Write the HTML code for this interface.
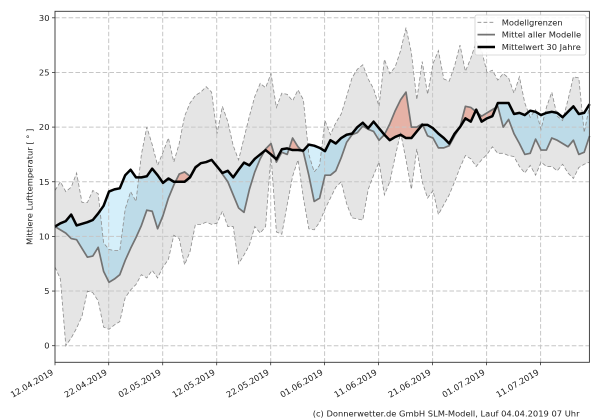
<!DOCTYPE html>
<html><head><meta charset="utf-8"><style>
html,body{margin:0;padding:0;background:#fff;width:600px;height:420px;overflow:hidden;}
svg{display:block;font-family:"DejaVu Sans","Liberation Sans",sans-serif;}
</style></head><body>
<svg width="600" height="420" viewBox="0 0 600 420" xmlns="http://www.w3.org/2000/svg">
<rect x="0" y="0" width="600" height="420" fill="#fff"/>
<g transform="matrix(5.4 0 0 -10.93 55 345.7)">
<defs>
<clipPath id="belowC"><polygon points="0,10.9 1,11.2 2,11.4 3,12 4,11 5,11.15 6,11.3 7,11.5 8,12.1 9,12.8 10,14.1 11,14.3 12,14.4 13,15.6 14,16.1 15,15.4 16,15.4 17,15.5 18,16.2 19,15.6 20,14.9 21,15.3 22,15 23,15 24,15 25,15.4 26,16.3 27,16.7 28,16.8 29,17 30,16.4 31,15.8 32,16 33,15.4 34,16.1 35,16.75 36,16.5 37,17.1 38,17.5 39,17.9 40,17.5 41,17.05 42,17.97 43,18.05 44,17.9 45,17.9 46,17.85 47,18.4 48,18.3 49,18.1 50,17.8 51,18.8 52,18.5 53,19 54,19.3 55,19.4 56,20 57,20.4 58,19.9 59,20.5 60,19.9 61,19.3 62,18.8 63,19.1 64,19.3 65,19 66,19 67,19.6 68,20.2 69,20.2 70,19.9 71,19.4 72,19 73,18.5 74,19.4 75,20 76,20.8 77,20.5 78,21.6 79,20.5 80,20.8 81,21 82,22.2 83,22.2 84,22.2 85,21.2 86,21.3 87,21.1 88,21.5 89,21.4 90,21.1 91,21.3 92,21.4 93,21.3 94,20.9 95,21.4 96,21.9 97,21.2 98,21.3 99,22.1 99,-1.5 0,-1.5"/></clipPath>
<clipPath id="aboveC"><polygon points="0,10.9 1,11.2 2,11.4 3,12 4,11 5,11.15 6,11.3 7,11.5 8,12.1 9,12.8 10,14.1 11,14.3 12,14.4 13,15.6 14,16.1 15,15.4 16,15.4 17,15.5 18,16.2 19,15.6 20,14.9 21,15.3 22,15 23,15 24,15 25,15.4 26,16.3 27,16.7 28,16.8 29,17 30,16.4 31,15.8 32,16 33,15.4 34,16.1 35,16.75 36,16.5 37,17.1 38,17.5 39,17.9 40,17.5 41,17.05 42,17.97 43,18.05 44,17.9 45,17.9 46,17.85 47,18.4 48,18.3 49,18.1 50,17.8 51,18.8 52,18.5 53,19 54,19.3 55,19.4 56,20 57,20.4 58,19.9 59,20.5 60,19.9 61,19.3 62,18.8 63,19.1 64,19.3 65,19 66,19 67,19.6 68,20.2 69,20.2 70,19.9 71,19.4 72,19 73,18.5 74,19.4 75,20 76,20.8 77,20.5 78,21.6 79,20.5 80,20.8 81,21 82,22.2 83,22.2 84,22.2 85,21.2 86,21.3 87,21.1 88,21.5 89,21.4 90,21.1 91,21.3 92,21.4 93,21.3 94,20.9 95,21.4 96,21.9 97,21.2 98,21.3 99,22.1 99,30.5 0,30.5"/></clipPath>
<clipPath id="belowU"><polygon points="0,14.2 1,15 2,14.1 3,14.5 4,15.8 5,13.1 6,13.1 7,14.2 8,13.9 9,9.4 10,8.8 11,8.7 12,8.7 13,12.5 14,14.1 15,13.2 16,17.5 17,20 18,18.4 19,16.5 20,17.7 21,19 22,16.8 23,18.5 24,21 25,22.2 26,22.9 27,23.2 28,23.7 29,23.2 30,19.4 31,21.9 32,20.5 33,18.3 34,17 35,19 36,21 37,22.8 38,24 39,23.6 40,24.9 41,21.8 42,23.1 43,23 44,22.4 45,23.4 46,22.5 47,17.5 48,15.9 49,16.5 50,20.6 51,19.3 52,20.4 53,21.2 54,22.8 55,24.5 56,25.3 57,25.7 58,24.4 59,23.5 60,21.9 61,26.2 62,24.9 63,25.5 64,27 65,29.1 66,26.8 67,22.5 68,26 69,23 70,25.8 71,27 72,24.4 73,24.2 74,25.6 75,27.5 76,25.1 77,26.3 78,27.8 79,27 80,25 81,25.2 82,24.3 83,24.9 84,24.5 85,23.1 86,24.6 87,22.2 88,20.9 89,21.6 90,19.8 91,21.8 92,23.2 93,21 94,20.6 95,22.5 96,24.6 97,24.5 98,19.5 99,22 99,-1.5 0,-1.5"/></clipPath>
<clipPath id="aboveL"><polygon points="0,7.2 1,6.1 2,0 3,0.7 4,1.6 5,2.7 6,5 7,4.85 8,4.1 9,1.7 10,1.5 11,1.9 12,2.2 13,4.4 14,5.1 15,5.6 16,6.5 17,6.2 18,6.9 19,6.2 20,7.2 21,7.9 22,10.1 23,9.8 24,7.4 25,8.6 26,11.1 27,11.1 28,11.3 29,11.1 30,11.2 31,12.3 32,10.9 33,10.9 34,7.5 35,8.3 36,9.2 37,10.9 38,10.3 39,10.9 40,17.5 41,10.4 42,10.2 43,12.9 44,15.5 45,17 46,13.5 47,10.7 48,10.6 49,11.3 50,12.5 51,13.5 52,14.5 53,15 54,13 55,11.7 56,11.6 57,11.5 58,14.3 59,15.6 60,16.8 61,13.8 62,15 63,17.3 64,19.5 65,17 66,14.3 67,18 68,15 69,13.5 70,14.2 71,12 72,12.9 73,13.8 74,15 75,16.3 76,17.4 77,17.1 78,16.4 79,17 80,17.5 81,18.2 82,17.6 83,17.6 84,17.4 85,17.3 86,16.4 87,15.8 88,16.5 89,15.6 90,16.8 91,16.4 92,16.4 93,16 94,16.6 95,15.8 96,15.3 97,16.3 98,16.6 99,16.8 99,30.5 0,30.5"/></clipPath>
</defs>
<g clip-path="url(#aboveL)"><polygon fill="#e5e5e5" points="0,14.2 1,15 2,14.1 3,14.5 4,15.8 5,13.1 6,13.1 7,14.2 8,13.9 9,9.4 10,8.8 11,8.7 12,8.7 13,12.5 14,14.1 15,13.2 16,17.5 17,20 18,18.4 19,16.5 20,17.7 21,19 22,16.8 23,18.5 24,21 25,22.2 26,22.9 27,23.2 28,23.7 29,23.2 30,19.4 31,21.9 32,20.5 33,18.3 34,17 35,19 36,21 37,22.8 38,24 39,23.6 40,24.9 41,21.8 42,23.1 43,23 44,22.4 45,23.4 46,22.5 47,17.5 48,15.9 49,16.5 50,20.6 51,19.3 52,20.4 53,21.2 54,22.8 55,24.5 56,25.3 57,25.7 58,24.4 59,23.5 60,21.9 61,26.2 62,24.9 63,25.5 64,27 65,29.1 66,26.8 67,22.5 68,26 69,23 70,25.8 71,27 72,24.4 73,24.2 74,25.6 75,27.5 76,25.1 77,26.3 78,27.8 79,27 80,25 81,25.2 82,24.3 83,24.9 84,24.5 85,23.1 86,24.6 87,22.2 88,20.9 89,21.6 90,19.8 91,21.8 92,23.2 93,21 94,20.6 95,22.5 96,24.6 97,24.5 98,19.5 99,22 99,-1.5 0,-1.5"/></g>
<g clip-path="url(#belowC)"><polygon fill="#d5effa" points="0,10.9 1,10.6 2,10.3 3,9.8 4,9.7 5,8.9 6,8.1 7,8.2 8,9 9,6.8 10,5.8 11,6.1 12,6.5 13,7.8 14,8.9 15,9.9 16,11 17,12.4 18,12.3 19,10.7 20,11.9 21,13.5 22,14.7 23,15.7 24,15.9 25,15.5 26,16.4 27,16.7 28,16.8 29,17 30,16.4 31,15.7 32,15 33,13.8 34,12.6 35,12.2 36,14.3 37,15.9 38,17.1 39,18 40,18.5 41,16.8 42,17.7 43,17.5 44,19 45,18.2 46,17.7 47,15.6 48,13.2 49,13.5 50,15.6 51,15.6 52,16 53,17.2 54,18.6 55,19.3 56,19.5 57,20.1 58,19.8 59,19.6 60,18.8 61,19.3 62,20.3 63,21.5 64,22.5 65,23.2 66,20 67,20 68,20.3 69,19.2 70,19 71,18.1 72,18.1 73,18.3 74,19.2 75,20 76,21.9 77,21.8 78,21.4 79,21 80,21.3 81,21.6 82,21.9 83,20 84,20.7 85,19.4 86,18.5 87,17.5 88,17.6 89,18.9 90,17.9 91,17.9 92,19 93,18.8 94,18.5 95,18.2 96,18.8 97,17.5 98,17.7 99,19.2 99,30.5 0,30.5"/></g>
<g clip-path="url(#aboveL)"><g clip-path="url(#belowU)"><g clip-path="url(#belowC)"><polygon fill="#bddbe8" points="0,10.9 1,10.6 2,10.3 3,9.8 4,9.7 5,8.9 6,8.1 7,8.2 8,9 9,6.8 10,5.8 11,6.1 12,6.5 13,7.8 14,8.9 15,9.9 16,11 17,12.4 18,12.3 19,10.7 20,11.9 21,13.5 22,14.7 23,15.7 24,15.9 25,15.5 26,16.4 27,16.7 28,16.8 29,17 30,16.4 31,15.7 32,15 33,13.8 34,12.6 35,12.2 36,14.3 37,15.9 38,17.1 39,18 40,18.5 41,16.8 42,17.7 43,17.5 44,19 45,18.2 46,17.7 47,15.6 48,13.2 49,13.5 50,15.6 51,15.6 52,16 53,17.2 54,18.6 55,19.3 56,19.5 57,20.1 58,19.8 59,19.6 60,18.8 61,19.3 62,20.3 63,21.5 64,22.5 65,23.2 66,20 67,20 68,20.3 69,19.2 70,19 71,18.1 72,18.1 73,18.3 74,19.2 75,20 76,21.9 77,21.8 78,21.4 79,21 80,21.3 81,21.6 82,21.9 83,20 84,20.7 85,19.4 86,18.5 87,17.5 88,17.6 89,18.9 90,17.9 91,17.9 92,19 93,18.8 94,18.5 95,18.2 96,18.8 97,17.5 98,17.7 99,19.2 99,30.5 0,30.5"/></g></g></g>
<g clip-path="url(#aboveC)"><polygon fill="#f6d0c7" points="0,10.9 1,10.6 2,10.3 3,9.8 4,9.7 5,8.9 6,8.1 7,8.2 8,9 9,6.8 10,5.8 11,6.1 12,6.5 13,7.8 14,8.9 15,9.9 16,11 17,12.4 18,12.3 19,10.7 20,11.9 21,13.5 22,14.7 23,15.7 24,15.9 25,15.5 26,16.4 27,16.7 28,16.8 29,17 30,16.4 31,15.7 32,15 33,13.8 34,12.6 35,12.2 36,14.3 37,15.9 38,17.1 39,18 40,18.5 41,16.8 42,17.7 43,17.5 44,19 45,18.2 46,17.7 47,15.6 48,13.2 49,13.5 50,15.6 51,15.6 52,16 53,17.2 54,18.6 55,19.3 56,19.5 57,20.1 58,19.8 59,19.6 60,18.8 61,19.3 62,20.3 63,21.5 64,22.5 65,23.2 66,20 67,20 68,20.3 69,19.2 70,19 71,18.1 72,18.1 73,18.3 74,19.2 75,20 76,21.9 77,21.8 78,21.4 79,21 80,21.3 81,21.6 82,21.9 83,20 84,20.7 85,19.4 86,18.5 87,17.5 88,17.6 89,18.9 90,17.9 91,17.9 92,19 93,18.8 94,18.5 95,18.2 96,18.8 97,17.5 98,17.7 99,19.2 99,-1.5 0,-1.5"/></g>
<g clip-path="url(#aboveL)"><g clip-path="url(#belowU)"><g clip-path="url(#aboveC)"><polygon fill="#e6b2a6" points="0,10.9 1,10.6 2,10.3 3,9.8 4,9.7 5,8.9 6,8.1 7,8.2 8,9 9,6.8 10,5.8 11,6.1 12,6.5 13,7.8 14,8.9 15,9.9 16,11 17,12.4 18,12.3 19,10.7 20,11.9 21,13.5 22,14.7 23,15.7 24,15.9 25,15.5 26,16.4 27,16.7 28,16.8 29,17 30,16.4 31,15.7 32,15 33,13.8 34,12.6 35,12.2 36,14.3 37,15.9 38,17.1 39,18 40,18.5 41,16.8 42,17.7 43,17.5 44,19 45,18.2 46,17.7 47,15.6 48,13.2 49,13.5 50,15.6 51,15.6 52,16 53,17.2 54,18.6 55,19.3 56,19.5 57,20.1 58,19.8 59,19.6 60,18.8 61,19.3 62,20.3 63,21.5 64,22.5 65,23.2 66,20 67,20 68,20.3 69,19.2 70,19 71,18.1 72,18.1 73,18.3 74,19.2 75,20 76,21.9 77,21.8 78,21.4 79,21 80,21.3 81,21.6 82,21.9 83,20 84,20.7 85,19.4 86,18.5 87,17.5 88,17.6 89,18.9 90,17.9 91,17.9 92,19 93,18.8 94,18.5 95,18.2 96,18.8 97,17.5 98,17.7 99,19.2 99,-1.5 0,-1.5"/></g></g></g>
</g>
<g stroke="#c6c6c6" stroke-width="1" stroke-dasharray="4.6 2.2" fill="none">
<line x1="55" y1="345.7" x2="589.4" y2="345.7"/>
<line x1="55" y1="291.05" x2="589.4" y2="291.05"/>
<line x1="55" y1="236.4" x2="589.4" y2="236.4"/>
<line x1="55" y1="181.75" x2="589.4" y2="181.75"/>
<line x1="55" y1="127.1" x2="589.4" y2="127.1"/>
<line x1="55" y1="72.45" x2="589.4" y2="72.45"/>
<line x1="55" y1="17.8" x2="589.4" y2="17.8"/>
<line x1="108.7" y1="11.3" x2="108.7" y2="362.3"/>
<line x1="162.7" y1="11.3" x2="162.7" y2="362.3"/>
<line x1="216.7" y1="11.3" x2="216.7" y2="362.3"/>
<line x1="270.7" y1="11.3" x2="270.7" y2="362.3"/>
<line x1="324.6" y1="11.3" x2="324.6" y2="362.3"/>
<line x1="378.6" y1="11.3" x2="378.6" y2="362.3"/>
<line x1="432.6" y1="11.3" x2="432.6" y2="362.3"/>
<line x1="486.6" y1="11.3" x2="486.6" y2="362.3"/>
<line x1="540.6" y1="11.3" x2="540.6" y2="362.3"/>
</g>
<g transform="matrix(5.4 0 0 -10.93 55 345.7)" fill="none">
<polyline vector-effect="non-scaling-stroke" stroke="#8c8c8c" stroke-width="0.8" stroke-dasharray="3.8 2.2" points="0,14.2 1,15 2,14.1 3,14.5 4,15.8 5,13.1 6,13.1 7,14.2 8,13.9 9,9.4 10,8.8 11,8.7 12,8.7 13,12.5 14,14.1 15,13.2 16,17.5 17,20 18,18.4 19,16.5 20,17.7 21,19 22,16.8 23,18.5 24,21 25,22.2 26,22.9 27,23.2 28,23.7 29,23.2 30,19.4 31,21.9 32,20.5 33,18.3 34,17 35,19 36,21 37,22.8 38,24 39,23.6 40,24.9 41,21.8 42,23.1 43,23 44,22.4 45,23.4 46,22.5 47,17.5 48,15.9 49,16.5 50,20.6 51,19.3 52,20.4 53,21.2 54,22.8 55,24.5 56,25.3 57,25.7 58,24.4 59,23.5 60,21.9 61,26.2 62,24.9 63,25.5 64,27 65,29.1 66,26.8 67,22.5 68,26 69,23 70,25.8 71,27 72,24.4 73,24.2 74,25.6 75,27.5 76,25.1 77,26.3 78,27.8 79,27 80,25 81,25.2 82,24.3 83,24.9 84,24.5 85,23.1 86,24.6 87,22.2 88,20.9 89,21.6 90,19.8 91,21.8 92,23.2 93,21 94,20.6 95,22.5 96,24.6 97,24.5 98,19.5 99,22"/>
<polyline vector-effect="non-scaling-stroke" stroke="#8c8c8c" stroke-width="0.8" stroke-dasharray="3.8 2.2" points="0,7.2 1,6.1 2,0 3,0.7 4,1.6 5,2.7 6,5 7,4.85 8,4.1 9,1.7 10,1.5 11,1.9 12,2.2 13,4.4 14,5.1 15,5.6 16,6.5 17,6.2 18,6.9 19,6.2 20,7.2 21,7.9 22,10.1 23,9.8 24,7.4 25,8.6 26,11.1 27,11.1 28,11.3 29,11.1 30,11.2 31,12.3 32,10.9 33,10.9 34,7.5 35,8.3 36,9.2 37,10.9 38,10.3 39,10.9 40,17.5 41,10.4 42,10.2 43,12.9 44,15.5 45,17 46,13.5 47,10.7 48,10.6 49,11.3 50,12.5 51,13.5 52,14.5 53,15 54,13 55,11.7 56,11.6 57,11.5 58,14.3 59,15.6 60,16.8 61,13.8 62,15 63,17.3 64,19.5 65,17 66,14.3 67,18 68,15 69,13.5 70,14.2 71,12 72,12.9 73,13.8 74,15 75,16.3 76,17.4 77,17.1 78,16.4 79,17 80,17.5 81,18.2 82,17.6 83,17.6 84,17.4 85,17.3 86,16.4 87,15.8 88,16.5 89,15.6 90,16.8 91,16.4 92,16.4 93,16 94,16.6 95,15.8 96,15.3 97,16.3 98,16.6 99,16.8"/>
<polyline vector-effect="non-scaling-stroke" stroke="#737373" stroke-width="1.7" stroke-linejoin="round" points="0,10.9 1,10.6 2,10.3 3,9.8 4,9.7 5,8.9 6,8.1 7,8.2 8,9 9,6.8 10,5.8 11,6.1 12,6.5 13,7.8 14,8.9 15,9.9 16,11 17,12.4 18,12.3 19,10.7 20,11.9 21,13.5 22,14.7 23,15.7 24,15.9 25,15.5 26,16.4 27,16.7 28,16.8 29,17 30,16.4 31,15.7 32,15 33,13.8 34,12.6 35,12.2 36,14.3 37,15.9 38,17.1 39,18 40,18.5 41,16.8 42,17.7 43,17.5 44,19 45,18.2 46,17.7 47,15.6 48,13.2 49,13.5 50,15.6 51,15.6 52,16 53,17.2 54,18.6 55,19.3 56,19.5 57,20.1 58,19.8 59,19.6 60,18.8 61,19.3 62,20.3 63,21.5 64,22.5 65,23.2 66,20 67,20 68,20.3 69,19.2 70,19 71,18.1 72,18.1 73,18.3 74,19.2 75,20 76,21.9 77,21.8 78,21.4 79,21 80,21.3 81,21.6 82,21.9 83,20 84,20.7 85,19.4 86,18.5 87,17.5 88,17.6 89,18.9 90,17.9 91,17.9 92,19 93,18.8 94,18.5 95,18.2 96,18.8 97,17.5 98,17.7 99,19.2"/>
<polyline vector-effect="non-scaling-stroke" stroke="#000" stroke-width="2.5" stroke-linejoin="round" points="0,10.9 1,11.2 2,11.4 3,12 4,11 5,11.15 6,11.3 7,11.5 8,12.1 9,12.8 10,14.1 11,14.3 12,14.4 13,15.6 14,16.1 15,15.4 16,15.4 17,15.5 18,16.2 19,15.6 20,14.9 21,15.3 22,15 23,15 24,15 25,15.4 26,16.3 27,16.7 28,16.8 29,17 30,16.4 31,15.8 32,16 33,15.4 34,16.1 35,16.75 36,16.5 37,17.1 38,17.5 39,17.9 40,17.5 41,17.05 42,17.97 43,18.05 44,17.9 45,17.9 46,17.85 47,18.4 48,18.3 49,18.1 50,17.8 51,18.8 52,18.5 53,19 54,19.3 55,19.4 56,20 57,20.4 58,19.9 59,20.5 60,19.9 61,19.3 62,18.8 63,19.1 64,19.3 65,19 66,19 67,19.6 68,20.2 69,20.2 70,19.9 71,19.4 72,19 73,18.5 74,19.4 75,20 76,20.8 77,20.5 78,21.6 79,20.5 80,20.8 81,21 82,22.2 83,22.2 84,22.2 85,21.2 86,21.3 87,21.1 88,21.5 89,21.4 90,21.1 91,21.3 92,21.4 93,21.3 94,20.9 95,21.4 96,21.9 97,21.2 98,21.3 99,22.1"/>
</g>
<rect x="55" y="11.3" width="534.4" height="351" fill="none" stroke="#333" stroke-width="0.9"/>
<g stroke="#333" stroke-width="0.8">
<line x1="52" y1="345.7" x2="55" y2="345.7"/><line x1="52" y1="291.05" x2="55" y2="291.05"/><line x1="52" y1="236.4" x2="55" y2="236.4"/><line x1="52" y1="181.75" x2="55" y2="181.75"/><line x1="52" y1="127.1" x2="55" y2="127.1"/><line x1="52" y1="72.45" x2="55" y2="72.45"/><line x1="52" y1="17.8" x2="55" y2="17.8"/>
<line x1="55" y1="362.3" x2="55" y2="365.3"/><line x1="108.7" y1="362.3" x2="108.7" y2="365.3"/><line x1="162.7" y1="362.3" x2="162.7" y2="365.3"/><line x1="216.7" y1="362.3" x2="216.7" y2="365.3"/><line x1="270.7" y1="362.3" x2="270.7" y2="365.3"/><line x1="324.6" y1="362.3" x2="324.6" y2="365.3"/><line x1="378.6" y1="362.3" x2="378.6" y2="365.3"/><line x1="432.6" y1="362.3" x2="432.6" y2="365.3"/><line x1="486.6" y1="362.3" x2="486.6" y2="365.3"/><line x1="540.6" y1="362.3" x2="540.6" y2="365.3"/>
</g>
<g font-size="8.33" fill="#222" text-anchor="end">
<text x="49.5" y="348.7">0</text>
<text x="49.5" y="294.05">5</text>
<text x="49.5" y="239.4">10</text>
<text x="49.5" y="184.75">15</text>
<text x="49.5" y="130.1">20</text>
<text x="49.5" y="75.45">25</text>
<text x="49.5" y="20.8">30</text>
</g>
<g font-size="8.33" fill="#222" text-anchor="end">
<text transform="translate(54,374) rotate(-30)">12.04.2019</text>
<text transform="translate(107.7,374) rotate(-30)">22.04.2019</text>
<text transform="translate(161.7,374) rotate(-30)">02.05.2019</text>
<text transform="translate(215.7,374) rotate(-30)">12.05.2019</text>
<text transform="translate(269.7,374) rotate(-30)">22.05.2019</text>
<text transform="translate(323.6,374) rotate(-30)">01.06.2019</text>
<text transform="translate(377.6,374) rotate(-30)">11.06.2019</text>
<text transform="translate(431.6,374) rotate(-30)">21.06.2019</text>
<text transform="translate(485.6,374) rotate(-30)">01.07.2019</text>
<text transform="translate(539.6,374) rotate(-30)">11.07.2019</text>
</g>
<text transform="translate(32.3,186.8) rotate(-90)" font-size="8.33" fill="#222" text-anchor="middle">Mittlere Lufttemperatur [ ° ]</text>
<text x="579.5" y="416.5" font-size="8.33" fill="#222" text-anchor="end">(c) Donnerwetter.de GmbH SLM-Modell, Lauf 04.04.2019 07 Uhr</text>
<rect x="475" y="15" width="111" height="40" rx="2" ry="2" fill="#fff" fill-opacity="0.85" stroke="#d0d0d0" stroke-width="0.8"/>
<line x1="477.5" y1="22.3" x2="495" y2="22.3" stroke="#8c8c8c" stroke-width="0.8" stroke-dasharray="3.8 2.2"/>
<line x1="477.5" y1="34.6" x2="495" y2="34.6" stroke="#737373" stroke-width="1.7"/>
<line x1="477.5" y1="47" x2="495" y2="47" stroke="#000" stroke-width="2.5"/>
<g font-size="8.33" fill="#222">
<text x="501.7" y="25.3">Modellgrenzen</text>
<text x="501.7" y="37.6">Mittel aller Modelle</text>
<text x="501.7" y="50">Mittelwert 30 Jahre</text>
</g>
</svg>
</body></html>
